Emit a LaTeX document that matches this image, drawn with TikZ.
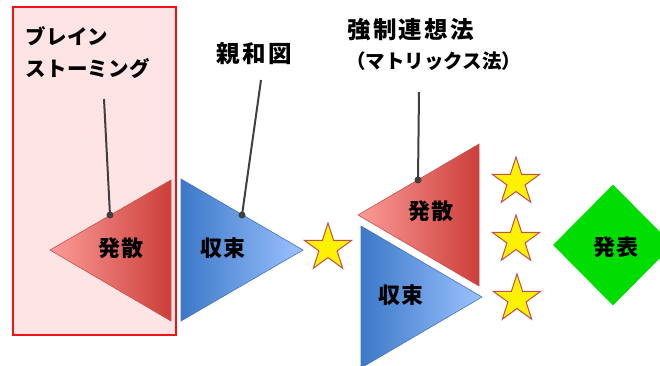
\documentclass[tikz,border=0pt]{standalone}
\usepackage{fontspec}
\usetikzlibrary{shapes.geometric}
\IfFontExistsTF{Noto Sans CJK JP Black}
	{\newfontfamily\jp{Noto Sans CJK JP Black}}
	{\IfFontExistsTF{Noto Sans CJK JP Bold}
		{\newfontfamily\jp{Noto Sans CJK JP Bold}[FakeBold=1.5]}
		{\newfontfamily\jp{Noto Sans CJK JP}[FakeBold=3]}}

\definecolor{boxpink}{RGB}{255,228,230}
\definecolor{boxred}{RGB}{240,20,20}
\definecolor{redlight}{RGB}{252,156,152}
\definecolor{reddark}{RGB}{204,62,58}
\definecolor{redline}{RGB}{200,80,77}
\definecolor{bluedark}{RGB}{60,120,200}
\definecolor{bluelight}{RGB}{156,194,255}
\definecolor{blueline}{RGB}{70,114,196}
\definecolor{leadgray}{RGB}{64,64,64}
\definecolor{starline}{RGB}{192,80,77}
\definecolor{pubgreen}{RGB}{0,221,0}

\tikzset{
	title/.style={inner sep=0pt, font=\jp\addfontfeature{LetterSpace=10}\fontsize{23.5}{26}\selectfont},
	subtitle/.style={inner sep=0pt, font=\jp\fontsize{19.5}{24}\selectfont},
	word/.style={inner sep=0pt, font=\jp\addfontfeature{LetterSpace=5}\fontsize{22}{24}\selectfont},
	lead/.style={line width=2pt, draw=leadgray},
	pin/.style={circle, fill=leadgray, inner sep=0pt, minimum size=7pt},
	redtri/.style={left color=redlight, right color=reddark, draw=redline, line width=0.6pt},
	bluetri/.style={left color=bluedark, right color=bluelight, draw=blueline, line width=0.6pt},
	goldstar/.style={star, star points=5, star point ratio=2.618, minimum size=50pt, inner sep=0pt, fill=yellow, draw=starline, line width=1pt},
}

\begin{document}
\begin{tikzpicture}[x=1pt, y=-1pt]
			%%%%% START %%%%%
			\useasboundingbox (0, 0) rectangle (660, 365);
			
			\draw[draw=boxred, line width=1.5pt, fill=boxpink] (13, 7) rectangle (176, 335);
			\node[anchor=north west, align=left, inner sep=0pt, font=\jp\addfontfeature{LetterSpace=2}\fontsize{20.5}{32}\selectfont] (brain) at (25, 26) {ブレイン\\ストーミング};
			
			\draw[redtri] (50, 250) -- (171, 180) -- (171, 321) -- cycle;
			\draw[bluetri] (181, 179) -- (303, 250) -- (181, 321) -- cycle;
			\draw[redtri] (358, 215) -- (479, 144) -- (479, 286) -- cycle;
			\draw[bluetri] (361, 226) -- (482, 297) -- (361, 368) -- cycle;
			
			\node[word] (diverge1) at (121, 248) {発散};
			\node[word] (converge1) at (223, 248) {収束};
			\node[word] (diverge2) at (431, 211) {発散};
			\node[word] (converge2) at (401, 295) {収束};
			
			\node[goldstar] (star1) at (328, 248) {};
			\node[goldstar] (star2) at (516, 182) {};
			\node[goldstar] (star3) at (516, 240) {};
			\node[goldstar] (star4) at (517, 299) {};
			
			\node[diamond, fill=pubgreen, minimum width=120pt, minimum height=121pt, inner sep=0pt] (pub) at (613, 245) {};
			\node[word] (publish) at (616, 247) {発表};
			
			\node[title] (affinity) at (254, 54) {親和図};
			\node[title, anchor=west] (forced) at (347, 30) {強制連想法};
			\node[subtitle, anchor=west] (matrix) at (346, 61) {（マトリックス法）};
			
			% leader lines
			\node[pin] (pinA) at (110, 215) {};
			\node[pin] (pinB) at (242, 215) {};
			\node[pin] (pinC) at (418, 180) {};
			\coordinate (tagA) at (104, 99);
			\coordinate (tagB) at (261, 80);
			\coordinate (tagC) at (419, 92);
			\draw[lead] (tagA) -- (pinA.center);
			\draw[lead] (tagB) -- (pinB.center);
			\draw[lead] (tagC) -- (pinC.center);
			
			%%%%% END %%%%%
\end{tikzpicture}
\end{document}
